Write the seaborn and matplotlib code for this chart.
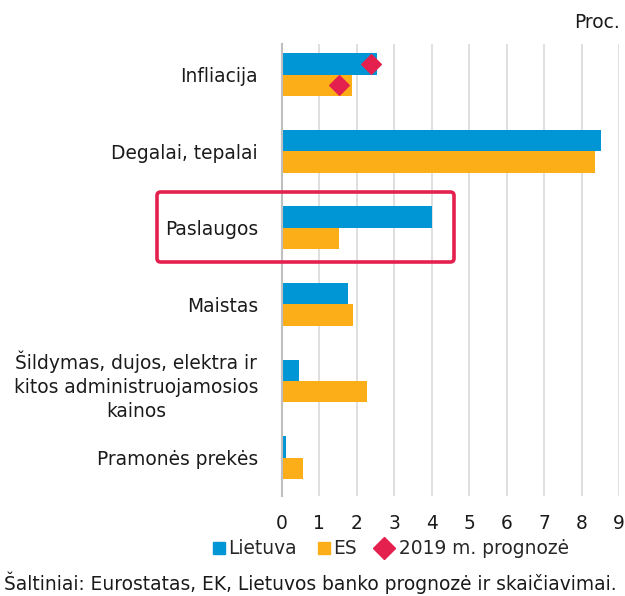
import seaborn as sns
import matplotlib.pyplot as plt
import pandas as pd
from matplotlib.lines import Line2D
from matplotlib.patches import FancyBboxPatch

categories = ['Infliacija', 'Degalai, tepalai', 'Paslaugos', 'Maistas',
              'Šildymas, dujos, elektra ir\nkitos administruojamosios\nkainos',
              'Pramonės prekės']
lietuva = [2.53, 8.51, 4.0, 1.76, 0.45, 0.11]
es = [1.87, 8.35, 1.53, 1.91, 2.27, 0.56]
prognoze_lt = 2.37
prognoze_es = 1.54
xticks = list(range(0, 10))

blue = '#0096D6'
orange = '#FBAE17'
red = '#E4204F'
fs = 13.4

df = pd.DataFrame({
    'kategorija': categories * 2,
    'reiksme': lietuva + es,
    'salis': ['Lietuva'] * len(categories) + ['ES'] * len(categories),
})

sns.set_style('white')
plt.rcParams['font.family'] = ['DejaVu Sans']

fig = plt.figure(figsize=(6.25, 5.96), dpi=100)
ax = fig.add_axes([0.4507, 0.168, 0.54, 0.758])

sns.barplot(data=df, y='kategorija', x='reiksme', hue='salis',
            palette=[blue, orange], width=0.56, orient='h',
            saturation=1, legend=False, linewidth=0, ax=ax)

# prognozes rombai ant infliacijos stulpeliu
lt_bar = ax.containers[0][0]
es_bar = ax.containers[1][0]
ax.scatter([prognoze_lt, prognoze_es],
           [lt_bar.get_y() + lt_bar.get_height() / 2,
            es_bar.get_y() + es_bar.get_height() / 2],
           marker='D', s=100, color=red, zorder=5)

ax.set_xlim(0, 9)
ax.set_ylim(5.5, -0.4)
ax.set_xticks(xticks)
ax.set_xlabel('')
ax.set_ylabel('')
ax.grid(axis='x', color='#D9D9D9', linewidth=1.2)
ax.set_axisbelow(True)
for s in ['top', 'right', 'bottom']:
    ax.spines[s].set_visible(False)
ax.spines['left'].set_color('#BFBFBF')
ax.spines['left'].set_linewidth(1.5)
ax.tick_params(axis='both', length=0, labelsize=fs, colors='#1a1a1a')
ax.tick_params(axis='y', pad=17)
ax.tick_params(axis='x', pad=13)
for lbl in ax.get_yticklabels():
    lbl.set_multialignment('center')
    lbl.set_linespacing(1.35)

fig.text(0.992, 0.962, 'Proc.', ha='right', va='center', fontsize=fs, color='#1a1a1a')

# raudonas remelis aplink Paslaugos
box = FancyBboxPatch((157 / 625, 1 - 262 / 596), 297 / 625, 70 / 596,
                     boxstyle='round,pad=0,rounding_size=0.006',
                     transform=fig.transFigure, fill=False,
                     edgecolor=red, linewidth=2.6, zorder=10)
fig.patches.append(box)

handles = [
    Line2D([], [], marker='s', linestyle='', color=blue, markersize=8),
    Line2D([], [], marker='s', linestyle='', color=orange, markersize=8),
    Line2D([], [], marker='D', linestyle='', color=red, markersize=11),
]
fig.legend(handles, ['Lietuva', 'ES', ' 2019 m. prognozė'], ncol=3,
           loc='center', bbox_to_anchor=(0.626, 0.079), frameon=False,
           fontsize=fs, handlelength=0.6, handletextpad=0.15,
           columnspacing=1.2)

fig.text(0.006, 0.022, 'Šaltiniai: Eurostatas, EK, Lietuvos banko prognozė ir skaičiavimai.',
         ha='left', va='center', fontsize=fs, color='#1a1a1a')

fig.savefig('out.png', dpi=100)
